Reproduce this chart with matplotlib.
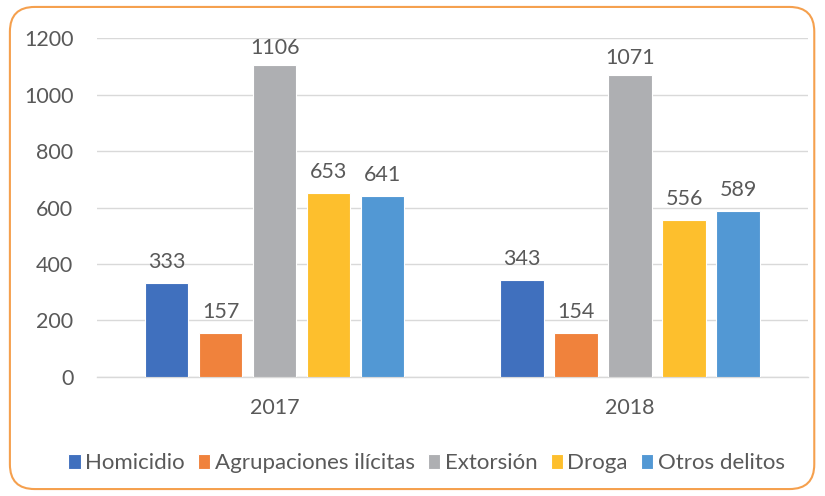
import numpy as np
import matplotlib.pyplot as plt
from matplotlib.patches import FancyBboxPatch

years = ["2017", "2018"]
series = ["Homicidio", "Agrupaciones ilícitas", "Extorsión", "Droga", "Otros delitos"]
homicidio = [333, 343]
agrupaciones = [157, 154]
extorsion = [1106, 1071]
droga = [653, 556]
otros = [641, 589]
values = [homicidio, agrupaciones, extorsion, droga, otros]
colors = ["#4070BE", "#F0823C", "#AEAFB2", "#FDBF2D", "#5298D4"]

plt.rcParams['font.family'] = ['Lato', 'DejaVu Sans']
txt = "#595959"

fig = plt.figure(figsize=(8.25, 4.96), dpi=100)
ax = fig.add_axes([0.1176, 0.240, 0.8614, 0.683])

x = np.arange(len(years))
step = 0.152
width = 0.122
for i, (name, vals) in enumerate(zip(series, values)):
    pos = x + (i - 2) * step
    bars = ax.bar(pos, vals, width, color=colors[i], label=name, edgecolor="white", linewidth=0.8, zorder=3)
    for b, v in zip(bars, vals):
        off = 5 if v > 1000 else 8
        ax.annotate(str(v), (b.get_x() + b.get_width() / 2, v), xytext=(0, off),
                    textcoords="offset points", ha="center", va="bottom",
                    fontsize=15.5, color=txt)

ax.set_xlim(-0.5, 1.5)
ax.set_ylim(0, 1200)
ax.set_yticks(range(0, 1201, 200))
ax.set_xticks(x)
ax.set_xticklabels(years)
ax.tick_params(axis="both", length=0, labelsize=15.5, colors=txt)
ax.tick_params(axis="x", pad=15)
ax.tick_params(axis="y", pad=17)
ax.grid(axis="y", color="#D9D9D9", linewidth=1, zorder=0)
for s in ["top", "right", "left"]:
    ax.spines[s].set_visible(False)
ax.spines["bottom"].set_color("#D9D9D9")
ax.spines["bottom"].set_linewidth(1)

fig.legend(loc="center", bbox_to_anchor=(0.517, 0.066), ncol=5, frameon=False,
           fontsize=16, labelcolor=txt, handlelength=0.55, handleheight=0.7,
           handletextpad=0.2, columnspacing=0.6)

border = FancyBboxPatch((0.012, 0.014), 0.975, 0.972, boxstyle="round,pad=0,rounding_size=0.03",
                        transform=fig.transFigure, fill=False, edgecolor="#F5A04E", linewidth=1.5,
                        mutation_aspect=825 / 496)
fig.patches.append(border)

fig.savefig("out.png", dpi=100)
